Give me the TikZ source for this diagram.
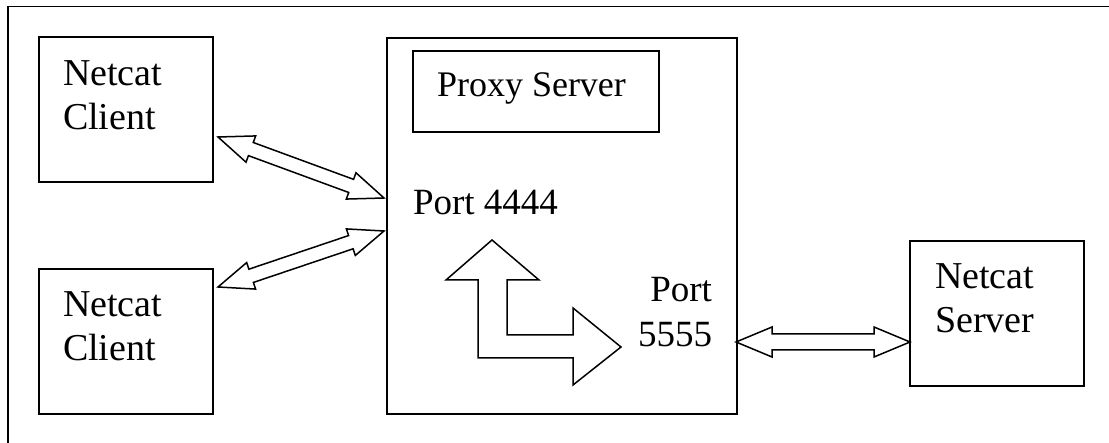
\documentclass[tikz,border=0pt]{standalone}
\usepackage{fontspec}
\setmainfont{Liberation Serif}
\usetikzlibrary{calc}

\tikzset{
  frame/.style={draw, line width=1.8pt},
  box/.style={draw, line width=1.7pt, inner sep=0pt, outer sep=0pt, anchor=north west},
  lbl/.style={inner sep=0pt, outer sep=0pt, anchor=base west, font=\fontsize{38}{44}\selectfont},
  portlbl/.style={lbl, font=\fontsize{37}{44}\selectfont},
  flow/.style={draw, line width=1.5pt, fill=white, line join=miter},
}

% Hollow two-headed block arrow between two tips:
% #1, #2 tips; #3 head length; #4 head half width; #5 shaft half width
\newcommand\twowayarrow[5]{%
  \draw[flow] (#1)
    -- ($(#1)!#3!(#2)!#4!90:(#2)$)
    -- ($(#1)!#3!(#2)!#5!90:(#2)$)
    -- ($(#2)!#3!(#1)!#5!-90:(#1)$)
    -- ($(#2)!#3!(#1)!#4!-90:(#1)$)
    -- (#2)
    -- ($(#2)!#3!(#1)!#4!90:(#1)$)
    -- ($(#2)!#3!(#1)!#5!90:(#1)$)
    -- ($(#1)!#3!(#2)!#5!-90:(#2)$)
    -- ($(#1)!#3!(#2)!#4!-90:(#2)$)
    -- cycle;}

\begin{document}
\begin{tikzpicture}[x=1pt,y=-1pt]
\useasboundingbox (0,0) rectangle (1109,443);

% outer frame, running off the page at right and bottom
\begin{scope}
  \clip (0,0) rectangle (1109,443);
  \draw[frame] (8,6.5) rectangle (1140,480);
\end{scope}

% boxes
\node[box, minimum width=174, minimum height=145] (client1) at (39,37) {};
\node[box, minimum width=174, minimum height=145] (client2) at (39,269) {};
\node[box, minimum width=350, minimum height=376] (proxy) at (387,38) {};
\node[box, minimum width=246, minimum height=81] (proxyname) at (413,51) {};
\node[box, minimum width=174, minimum height=145] (server) at (910,241) {};

% labels
\node[lbl] (c1a) at (63,86) {Netcat};
\node[lbl] (c1b) at (63,130) {Client};
\node[lbl] (c2a) at (63,317) {Netcat};
\node[lbl] (c2b) at (63,361) {Client};
\node[lbl] (sva) at (935,289) {Netcat};
\node[lbl] (svb) at (935,333) {Server};
\node[lbl, font=\fontsize{36}{44}\selectfont] (pxy) at (437,97) {Proxy Server};
\node[portlbl] (p4) at (413,215) {Port 4444};
\node[portlbl, anchor=base east] (p5a) at (712,302) {Port};
\node[portlbl, anchor=base east] (p5b) at (712,347) {5555};

% arrow end points
\coordinate (a1l) at ($(client1.north east)+(5,100)$);
\coordinate (a1r) at ($(proxy.north west)+(-3,160)$);
\coordinate (a2l) at ($(client2.north east)+(5,18)$);
\coordinate (a2r) at ($(proxy.north west)+(-3,193)$);
\coordinate (a3l) at ($(proxy.north east)+(-1,304)$);
\coordinate (a3r) at ($(server.north west)+(0,101)$);

\twowayarrow{a1l}{a1r}{35pt}{14pt}{7pt}
\twowayarrow{a2l}{a2r}{35pt}{14pt}{7pt}
\twowayarrow{a3l}{a3r}{36pt}{15pt}{8pt}

% bent arrow inside the proxy: up to port 4444, right to port 5555
\draw[flow] (492,240) -- (539,280) -- (507,280) -- (507,335) -- (573,335)
  -- (573,308) -- (621,347) -- (573,385) -- (573,358) -- (478,358)
  -- (478,280) -- (446,280) -- cycle;
\end{tikzpicture}
\end{document}
